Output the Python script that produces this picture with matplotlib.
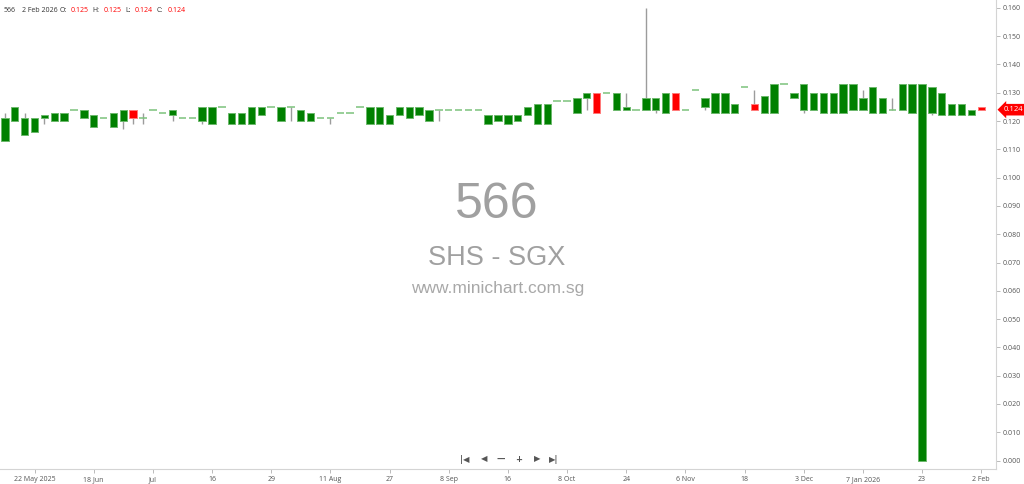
import numpy as np
from matplotlib import use, pyplot as plt
from matplotlib.transforms import blended_transform_factory
use('Agg')

plt.rcParams['font.family'] = ['Open Sans', 'DejaVu Sans']

# daily candles, 566 SHS - SGX, 22 May 2025 .. 2 Feb 2026
opens = [
    .113, .120, .115, .116, .121, .120, .120, .124, .121, .118,
    .121, .118, .120, .124, .121, .124, .123, .122, .121, .121,
    .120, .119, .125, .119, .119, .119, .122, .125, .120, .125,
    .120, .120, .121, .121, .123, .123, .125, .119, .119, .119,
    .122, .121, .122, .120, .124, .124, .124, .124, .124, .119,
    .120, .119, .120, .122, .119, .119, .127, .127, .123, .128,
    .130, .130, .124, .124, .124, .124, .124, .123, .130, .124,
    .131, .125, .123, .123, .123, .132, .126, .123, .123, .133,
    .128, .124, .124, .123, .123, .123, .124, .124, .123, .123,
    .124, .124, .123, .000, .123, .122, .122, .122, .122, .125,
]
highs = [
    .123, .125, .123, .121, .122, .123, .123, .124, .124, .122,
    .121, .123, .124, .124, .123, .124, .123, .124, .121, .121,
    .125, .125, .125, .123, .123, .125, .125, .125, .125, .125,
    .124, .123, .121, .121, .123, .123, .125, .125, .125, .122,
    .125, .125, .125, .124, .124, .124, .124, .124, .124, .122,
    .122, .122, .122, .125, .126, .126, .127, .127, .128, .130,
    .130, .130, .130, .130, .124, .160, .128, .130, .130, .124,
    .131, .128, .130, .130, .126, .132, .131, .129, .133, .133,
    .130, .133, .130, .130, .130, .133, .133, .131, .132, .128,
    .128, .133, .133, .133, .132, .130, .126, .126, .124, .125,
]
lows = [
    .113, .120, .115, .116, .119, .120, .120, .124, .121, .118,
    .121, .118, .117, .119, .119, .124, .123, .120, .121, .121,
    .119, .119, .125, .119, .119, .119, .122, .125, .120, .120,
    .120, .120, .121, .119, .123, .123, .125, .119, .119, .119,
    .122, .121, .122, .120, .120, .124, .124, .124, .124, .119,
    .120, .119, .120, .122, .119, .119, .127, .127, .123, .124,
    .123, .130, .124, .124, .124, .124, .123, .123, .124, .124,
    .131, .124, .123, .123, .123, .132, .124, .123, .123, .133,
    .128, .123, .124, .123, .123, .123, .124, .124, .123, .123,
    .124, .124, .123, .000, .122, .122, .122, .122, .122, .124,
]
closes = [
    .121, .125, .121, .121, .122, .123, .123, .124, .124, .122,
    .121, .123, .124, .121, .121, .124, .123, .124, .121, .121,
    .125, .125, .125, .123, .123, .125, .125, .125, .125, .125,
    .124, .123, .121, .121, .123, .123, .125, .125, .125, .122,
    .125, .125, .125, .124, .124, .124, .124, .124, .124, .122,
    .122, .122, .122, .125, .126, .126, .127, .127, .128, .130,
    .123, .130, .130, .125, .124, .128, .128, .130, .124, .124,
    .131, .128, .130, .130, .126, .132, .124, .129, .133, .133,
    .130, .133, .130, .130, .130, .133, .133, .128, .132, .128,
    .124, .133, .133, .133, .132, .130, .126, .126, .124, .124,
]

date_pos = [3, 9, 15, 21, 27, 33, 39, 45, 51, 57, 63, 69, 75, 81, 87, 93, 99]
date_labels = ['22 May 2025', '18 Jun', 'Jul', '16', '29', '11 Aug', '27', '8 Sep',
               '16', '8 Oct', '24', '6 Nov', '18', '3 Dec', '7 Jan 2026', '23', '2 Feb']
price_ticks = [0.000, 0.010, 0.020, 0.030, 0.040, 0.050, 0.060, 0.070, 0.080,
               0.090, 0.100, 0.110, 0.120, 0.130, 0.140, 0.150, 0.160]

header_names = ['O:', 'H:', 'L:', 'C:']
header_vals = ['0.125', '0.125', '0.124', '0.124']
last_price = 0.124

o = np.array(opens); h = np.array(highs); l = np.array(lows); c = np.array(closes)
x = np.arange(len(o))
up = c >= o
flat = o == c

W, H = 1024, 484
fig = plt.figure(figsize=(W / 100, H / 100), dpi=100)
ax = fig.add_axes([0, 15 / H, 996 / W, 469 / H])

# wicks
ax.vlines(x, l, h, color='#9c9c9c', linewidth=1, zorder=1)

# bodies
nb = ~flat
ax.bar(
    x[nb], np.abs(c - o)[nb], bottom=np.minimum(o, c)[nb], width=0.75,
    color=np.where(up[nb], '#008000', '#ff0000'),
    edgecolor=np.where(up[nb], '#6cb86c', '#ff7a7a'),
    linewidth=0.7, zorder=2
)
ax.hlines(o[flat], x[flat] - 0.375, x[flat] + 0.375,
          color='#7cc27c', linewidth=1.1, zorder=2)

ax.set_xlim(-0.5, 100.5)
ax.set_ylim(-0.00297, 0.16276)

for s in ['left', 'top']:
    ax.spines[s].set_visible(False)
for s in ['right', 'bottom']:
    ax.spines[s].set_color('#d4d4d4')
    ax.spines[s].set_linewidth(0.8)

ax.yaxis.tick_right()
ax.set_yticks(price_ticks)
ax.set_yticklabels([f'{p:.3f}' for p in price_ticks])
ax.set_xticks(date_pos)
ax.set_xticklabels(date_labels)
ax.tick_params(axis='both', labelsize=5, labelcolor='#555555', color='#b0b0b0',
               length=3, width=0.6, pad=2)

# last price tag
tr = blended_transform_factory(ax.transAxes, ax.transData)
ax.text(1.008, last_price, f'{last_price:.3f}', transform=tr, color='white',
        fontsize=5.5, va='center', ha='left', zorder=5,
        bbox=dict(boxstyle='larrow,pad=0.3', fc='#ff0000', ec='none'))

# watermark
wm = ['Liberation Sans', 'DejaVu Sans']
fig.text(497 / W, 1 - 205 / H, '566', fontsize=36, color='#a0a0a0',
         ha='center', va='center', family=wm)
fig.text(497 / W, 1 - 258 / H, 'SHS - SGX', fontsize=19.5, color='#a0a0a0',
         ha='center', va='center', family=wm)
fig.text(498 / W, 1 - 289 / H, 'www.minichart.com.sg', fontsize=12.5, color='#a8a8a8',
         ha='center', va='center', family=wm)

# header
hy = 1 - 10 / H
fig.text(4 / W, hy, '566', fontsize=5, color='#333333', va='center')
fig.text(22 / W, hy, '2 Feb 2026', fontsize=5, color='#333333', va='center')
for nx, vx, name, val in zip([60, 92, 125, 157], [71, 104, 135, 168], header_names, header_vals):
    fig.text(nx / W, hy, name, fontsize=5, color='#333333', va='center')
    fig.text(vx / W, hy, val, fontsize=5, color='#ff0000', va='center')

# navigation buttons
ny = 1 - 459 / H
nav = [(465, '|◀'), (484, '◀'), (501, '—'), (519, '+'), (537, '▶'), (554, '▶|')]
for px, s in nav:
    fig.text(px / W, ny, s, fontsize=6, color='#555555', ha='center', va='center',
             family='DejaVu Sans', fontweight='bold')

plt.savefig('out.png', dpi=100)
